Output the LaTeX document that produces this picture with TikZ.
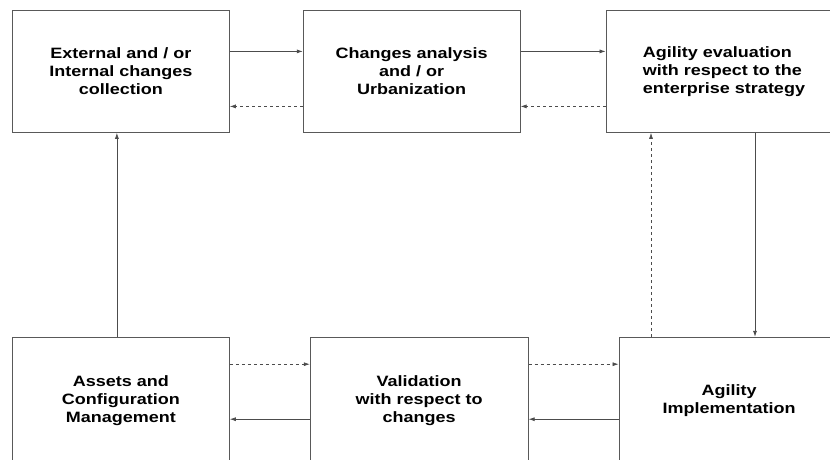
\documentclass[tikz,border=0pt]{standalone}
\usepackage{fontspec}
\setmainfont{Liberation Sans}[FakeStretch=1.2]
\usetikzlibrary{positioning}
\usetikzlibrary{arrows.meta}
\tikzset{>={Latex[width=4pt,length=6pt]}}

\begin{document}
\begin{tikzpicture}[x=1pt, y=1pt, box/.style={draw=black!65, line width=0.8pt, minimum width=217pt, minimum height=122pt, inner sep=0pt, align=center, font=\bfseries\fontsize{15}{18}\selectfont}, lowbox/.style={box, minimum height=126pt}, link/.style={->, draw=black!70, line width=0.7pt}, back/.style={link, dash pattern=on 3pt off 3pt}]

    \clip (0,0) rectangle (830,-459);

    %Nodes
    \node[box, anchor=north west](collect) at (12,-10){External and / or\\Internal changes\\collection};
    \node[box](analysis)[right=73pt of collect]{Changes analysis\\and / or\\Urbanization};
    \node[box, minimum width=236pt, align=left](evaluation)[right=85pt of analysis]{Agility evaluation\\with respect to the\\enterprise strategy};
    \node[lowbox](assets)[below=204pt of collect]{Assets and\\Configuration\\Management};
    \node[lowbox, minimum width=218pt](validation)[right=80pt of assets]{Validation\\with respect to\\changes};
    \node[lowbox, minimum width=220pt](implementation)[right=90pt of validation]{Agility\\Implementation};

    %Lines
    \draw[link] ([yshift=20pt]collect.east) -- ([yshift=20pt]analysis.west);
    \draw[back] ([yshift=-35pt]analysis.west) -- ([yshift=-35pt]collect.east);
    \draw[link] ([yshift=20pt]analysis.east) -- ([yshift=20pt]evaluation.west);
    \draw[back] ([yshift=-35pt]evaluation.west) -- ([yshift=-35pt]analysis.east);
    \draw[link] ([xshift=31pt]evaluation.south) -- ([xshift=31pt]evaluation.south |- implementation.north);
    \draw[back] ([xshift=-73pt]evaluation.south |- implementation.north) -- ([xshift=-73pt]evaluation.south);
    \draw[link] ([xshift=-4pt]assets.north) -- ([xshift=-4pt]collect.south);
    \draw[back] ([yshift=36pt]assets.east) -- ([yshift=36pt]validation.west);
    \draw[link] ([yshift=-19pt]validation.west) -- ([yshift=-19pt]assets.east);
    \draw[back] ([yshift=36pt]validation.east) -- ([yshift=36pt]implementation.west);
    \draw[link] ([yshift=-19pt]implementation.west) -- ([yshift=-19pt]validation.east);

\end{tikzpicture}
\end{document}
